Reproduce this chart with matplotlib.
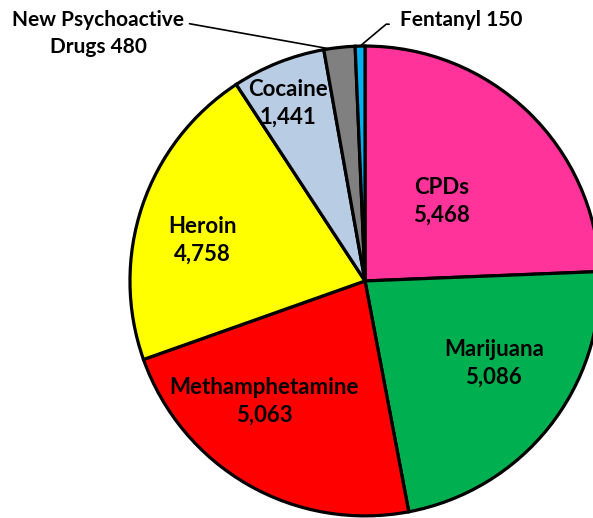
import numpy as np
from matplotlib import pyplot as plt

# drug types, clockwise from 12 o'clock
drugs = ["CPDs", "Marijuana", "Methamphetamine", "Heroin", "Cocaine",
         "New Psychoactive\nDrugs", "Fentanyl"]
counts = [5468, 5086, 5063, 4758, 1441, 480, 150]
colors = ["#FF3399", "#00B050", "#FF0000", "#FFFF00", "#B8CCE4",
          "#808080", "#00B0F0"]

# where the inside labels sit: (fraction of radius, angle shift in degrees)
inside_pos = {
    "CPDs": (0.47, 0.0),
    "Marijuana": (0.65, 6.0),
    "Methamphetamine": (0.67, -10.0),
    "Heroin": (0.715, 4.5),
    "Cocaine": (0.825, 1.8),
}

plt.rcParams['font.family'] = ['Lato', 'DejaVu Sans']

fig = plt.figure(figsize=(5.93, 5.18), dpi=100)
ax = fig.add_axes([0, 0, 1, 1])

wedges, _ = ax.pie(
    counts, colors=colors, startangle=90, counterclock=False,
    wedgeprops=dict(edgecolor="black", linewidth=2.3))

font = dict(fontsize=15, fontweight="bold", color="black")
for w, name, n in zip(wedges, drugs, counts):
    mid = np.deg2rad((w.theta1 + w.theta2) / 2)
    if name in inside_pos:
        r, shift = inside_pos[name]
        a = mid + np.deg2rad(shift)
        ax.text(r * np.cos(a), r * np.sin(a), f"{name}\n{n:,}",
                ha="center", va="center", linespacing=1.4,
                fontsize=16, fontweight="bold", color="black")

# outside labels with leader lines
npd, fen = wedges[5], wedges[6]
a = np.deg2rad((npd.theta1 + npd.theta2) / 2 + 2.5)
ax.annotate(f"{drugs[5]} {counts[5]}", xy=(np.cos(a), np.sin(a)),
            xytext=(-1.136, 1.055), ha="center", va="center",
            linespacing=1.45, **font,
            arrowprops=dict(arrowstyle="-", color="black", lw=1.2,
                            relpos=(1.0, 0.72), shrinkA=2, shrinkB=0))
a = np.deg2rad((fen.theta1 + fen.theta2) / 2)
ax.annotate(f"{drugs[6]} {counts[6]}", xy=(np.cos(a), np.sin(a)),
            xytext=(0.15, 1.11), ha="left", va="center", **font,
            arrowprops=dict(arrowstyle="-", color="black", lw=1.2,
                            relpos=(0.0, 0.3), shrinkA=6, shrinkB=0,
                            connectionstyle="angle,angleA=0,angleB=40,rad=0"))

ax.set_xlim(-1.553, 0.970)
ax.set_ylim(-1.009, 1.196)
ax.set_aspect("auto")
ax.axis("off")

fig.savefig("out.png", dpi=100)
